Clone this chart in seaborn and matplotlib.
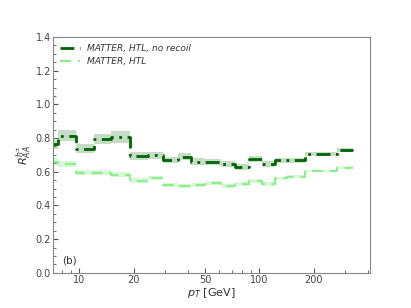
import numpy as np
import pandas as pd
import matplotlib
matplotlib.use("Agg")
import matplotlib.pyplot as plt
import matplotlib.ticker as mticker
import seaborn as sns

# bin centres (GeV)
pt = [6.8, 8.4, 10.8, 13.2, 16.8, 21.6, 26.4, 32.0, 38.4, 44.8, 54.4, 67.2,
      80.0, 95.0, 112.2, 130.4, 152.5, 207.5, 330.0]
raa_norecoil = [0.762, 0.815, 0.738, 0.795, 0.807, 0.693, 0.697, 0.670, 0.689,
                0.660, 0.657, 0.648, 0.630, 0.677, 0.644, 0.669, 0.669, 0.707, 0.731]
err_norecoil = [0.028, 0.035, 0.025, 0.030, 0.035, 0.025, 0.022, 0.020, 0.020,
                0.020, 0.018, 0.018, 0.018, 0.018, 0.018, 0.015, 0.015, 0.012, 0.012]
raa_recoil = [0.660, 0.648, 0.595, 0.593, 0.583, 0.548, 0.563, 0.520, 0.516,
              0.520, 0.532, 0.516, 0.526, 0.545, 0.526, 0.561, 0.571, 0.604, 0.624]
err_recoil = [0.020, 0.018, 0.015, 0.015, 0.015, 0.015, 0.013, 0.012, 0.012,
              0.012, 0.012, 0.012, 0.012, 0.012, 0.012, 0.010, 0.010, 0.008, 0.008]
labels = ["MATTER, HTL, no recoil", "MATTER, HTL"]

sns.set_style("ticks")
plt.rcParams["font.family"] = ["DejaVu Sans"]

fig = plt.figure(figsize=(4.11, 3.08), dpi=100)
ax = fig.add_axes([0.129, 0.114, 0.771, 0.766])

df1 = pd.DataFrame({"pt": pt, "raa": raa_norecoil})
df2 = pd.DataFrame({"pt": pt, "raa": raa_recoil})

dark = "#006400"
light = "#90ee90"

ax.fill_between(pt, np.array(raa_norecoil) - err_norecoil,
                np.array(raa_norecoil) + err_norecoil, step="mid",
                color=dark, alpha=0.22, lw=0)
ax.fill_between(pt, np.array(raa_recoil) - err_recoil,
                np.array(raa_recoil) + err_recoil, step="mid",
                color=light, alpha=0.35, lw=0)
sns.lineplot(data=df1, x="pt", y="raa", ax=ax, color=dark, lw=2.0,
             linestyle=(0, (5, 2, 1, 2)), drawstyle="steps-mid", label=labels[0])
sns.lineplot(data=df2, x="pt", y="raa", ax=ax, color=light, lw=1.6,
             linestyle=(0, (5, 3)), drawstyle="steps-mid", label=labels[1])

ax.set_xscale("log")
ax.set_xlim(7.15, 410)
ax.set_ylim(0, 1.4)
ax.xaxis.set_major_locator(mticker.FixedLocator([10, 20, 50, 100, 200]))
ax.xaxis.set_major_formatter(mticker.FixedFormatter(["10", "20", "50", "100", "200"]))
ax.xaxis.set_minor_locator(mticker.LogLocator(base=10, subs=np.arange(2, 10) * 1.0, numticks=20))
ax.xaxis.set_minor_formatter(mticker.NullFormatter())
ax.yaxis.set_major_locator(mticker.MultipleLocator(0.2))
ax.yaxis.set_minor_locator(mticker.MultipleLocator(0.05))

for s in ax.spines.values():
    s.set_color("#888888")
    s.set_linewidth(0.8)
ax.tick_params(which="both", direction="in", colors="#555555", labelcolor="#444444",
               labelsize=7)
ax.tick_params(which="major", length=3.5, width=0.8, pad=1.5)
ax.tick_params(which="minor", length=2, width=0.6)

ax.set_xlabel(r"$p_T$ [GeV]", fontsize=8, color="#333333", labelpad=1)
ax.set_ylabel(r"$R_{AA}^{h^{\pm}}$", fontsize=8, color="#333333", labelpad=2)
ax.text(0.03, 0.04, "(b)", transform=ax.transAxes, fontsize=7.5, color="#333333")

leg = ax.legend(loc="upper left", frameon=False, fontsize=6.5, handlelength=2.2,
                borderaxespad=0.4, labelspacing=0.4)
for t in leg.get_texts():
    t.set_fontstyle("italic")
    t.set_color("#333333")

fig.savefig("out.png", dpi=100)
